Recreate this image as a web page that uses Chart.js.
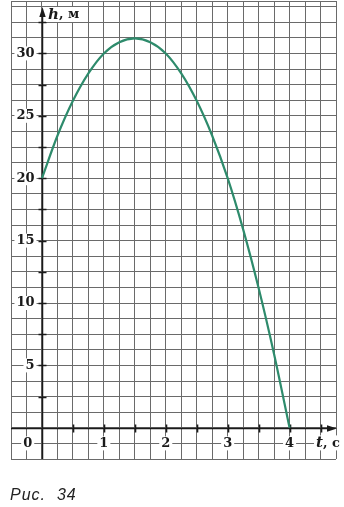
<!DOCTYPE html>
<html>
<head>
<meta charset="utf-8">
<script src="https://cdn.jsdelivr.net/npm/chart.js@4.4.1/dist/chart.umd.min.js"></script>
<style>
  body { margin: 0; background: #fff; }
  #wrap { position: relative; width: 344px; height: 507px; }
  #caption { position: absolute; left: 10px; top: 487px; font: italic 16px "Liberation Sans", Arial, sans-serif; line-height: 16px; color: #222; letter-spacing: 1px; white-space: pre; }
</style>
</head>
<body>
<div id="wrap">
  <canvas id="c" width="344" height="507"></canvas>
  <div id="caption">Рис.  34</div>
</div>
<script>
// curve, t in seconds, h in metres
const times   = [0, 0.25, 0.5, 0.75, 1, 1.25, 1.5, 1.75, 2, 2.25, 2.5, 2.75, 3, 3.25, 3.5, 3.75, 4];
const heights = [20, 23.4, 26.2, 28.4, 30, 30.9, 31.2, 30.9, 30, 28.4, 26.2, 23.4, 20, 15.9, 11.2, 5.9, 0];

const xLabels = [0, 1, 2, 3, 4];
const yLabels = [5, 10, 15, 20, 25, 30];
const xMarks = [0.5, 1, 1.5, 2, 2.5, 3, 3.5, 4, 4.5];
const yMarks = [2.5, 5, 7.5, 10, 12.5, 15, 17.5, 20, 22.5, 25, 27.5, 30, 32.5];

const xMin = -0.5, xMax = 4.75, xStep = 0.25;
const yMin = -2.5, yMax = 34.2, yStep = 1.25;

function gridTicks(min, max, step) {
  const out = [];
  for (let i = 0; min + i * step <= max + 1e-9; i++) out.push({ value: min + i * step });
  if (out[out.length - 1].value < max - 1e-6) out.push({ value: max });
  return out;
}

const serif = '"DejaVu Serif", "Liberation Serif", serif';

function boxText(ctx, text, px, py, align) {
  const w = ctx.measureText(text).width;
  let left = align === 'right' ? px - w : align === 'center' ? px - w / 2 : px;
  ctx.fillStyle = '#fff';
  ctx.fillRect(left - 2, py - 7, w + 4, 14);
  ctx.fillStyle = '#1a1a1a';
  ctx.textAlign = 'left';
  ctx.textBaseline = 'middle';
  ctx.fillText(text, left, py);
}

const axesPlugin = {
  id: 'axes',
  beforeDatasetsDraw(chart) {
    const { ctx, chartArea: a, scales: { x, y } } = chart;
    const x0 = Math.round(x.getPixelForValue(0)) + 0.5;
    const y0 = Math.round(y.getPixelForValue(0)) + 0.5;
    ctx.save();
    ctx.strokeStyle = '#1a1a1a';
    ctx.fillStyle = '#1a1a1a';
    ctx.lineWidth = 1.5;

    // axes
    ctx.beginPath();
    ctx.moveTo(a.left, y0); ctx.lineTo(a.right - 4, y0);
    ctx.moveTo(x0, a.bottom); ctx.lineTo(x0, 14);
    ctx.stroke();
    // arrows
    ctx.beginPath();
    ctx.moveTo(a.right + 1, y0); ctx.lineTo(a.right - 9, y0 - 3.2); ctx.lineTo(a.right - 9, y0 + 3.2);
    ctx.closePath(); ctx.fill();
    ctx.beginPath();
    ctx.moveTo(x0, 7); ctx.lineTo(x0 - 3.2, 17); ctx.lineTo(x0 + 3.2, 17);
    ctx.closePath(); ctx.fill();

    // tick marks
    ctx.lineWidth = 1.6;
    ctx.beginPath();
    xMarks.forEach(v => {
      const px = Math.round(x.getPixelForValue(v)) + 0.5;
      ctx.moveTo(px, y0 - 4); ctx.lineTo(px, y0 + 4);
    });
    yMarks.forEach(v => {
      const py = Math.round(y.getPixelForValue(v)) + 0.5;
      ctx.moveTo(x0 - 4, py); ctx.lineTo(x0 + 4, py);
    });
    ctx.stroke();

    // tick labels
    ctx.font = 'bold 13px ' + serif;
    const rowY = y.getPixelForValue(-1.25);
    xLabels.forEach(v => {
      const px = v === 0 ? x.getPixelForValue(-0.23) : x.getPixelForValue(v);
      boxText(ctx, String(v), px, rowY, 'center');
    });
    yLabels.forEach(v => {
      boxText(ctx, String(v), x.getPixelForValue(-0.12), y.getPixelForValue(v), 'right');
    });

    // axis titles
    const title = (ital, rest, px, py) => {
      ctx.font = 'italic bold 15px ' + serif;
      const w1 = ctx.measureText(ital).width;
      ctx.font = 'bold 13px ' + serif;
      const w2 = ctx.measureText(rest).width;
      ctx.fillStyle = '#fff';
      ctx.fillRect(px - 2, py - 8, w1 + w2 + 4, 15);
      ctx.fillStyle = '#1a1a1a';
      ctx.textBaseline = 'middle';
      ctx.textAlign = 'left';
      ctx.font = 'italic bold 15px ' + serif;
      ctx.fillText(ital, px, py);
      ctx.font = 'bold 13px ' + serif;
      ctx.fillText(rest, px + w1, py);
    };
    title('h', ', м', 48, 15);
    title('t', ', c', 316, rowY);
    ctx.restore();
  }
};

new Chart(document.getElementById('c'), {
  type: 'line',
  data: {
    datasets: [{
      data: times.map((t, i) => ({ x: t, y: heights[i] })),
      borderColor: '#2e8b6c',
      borderWidth: 2.2,
      pointRadius: 0,
      cubicInterpolationMode: 'monotone',
      fill: false
    }]
  },
  options: {
    responsive: false,
    animation: false,
    events: [],
    layout: { padding: { left: 11, right: 8, top: 1, bottom: 48 } },
    plugins: { legend: { display: false }, tooltip: { enabled: false } },
    scales: {
      x: {
        type: 'linear', min: xMin, max: xMax,
        afterBuildTicks: s => { s.ticks = gridTicks(xMin, xMax, xStep); },
        ticks: { display: false },
        grid: { color: '#6a6a6a', lineWidth: 1, drawTicks: false },
        border: { display: false }
      },
      y: {
        type: 'linear', min: yMin, max: yMax,
        afterBuildTicks: s => { s.ticks = gridTicks(yMin, yMax, yStep); },
        ticks: { display: false },
        grid: { color: '#6a6a6a', lineWidth: 1, drawTicks: false },
        border: { display: false }
      }
    }
  },
  plugins: [axesPlugin]
});
</script>
</body>
</html>
